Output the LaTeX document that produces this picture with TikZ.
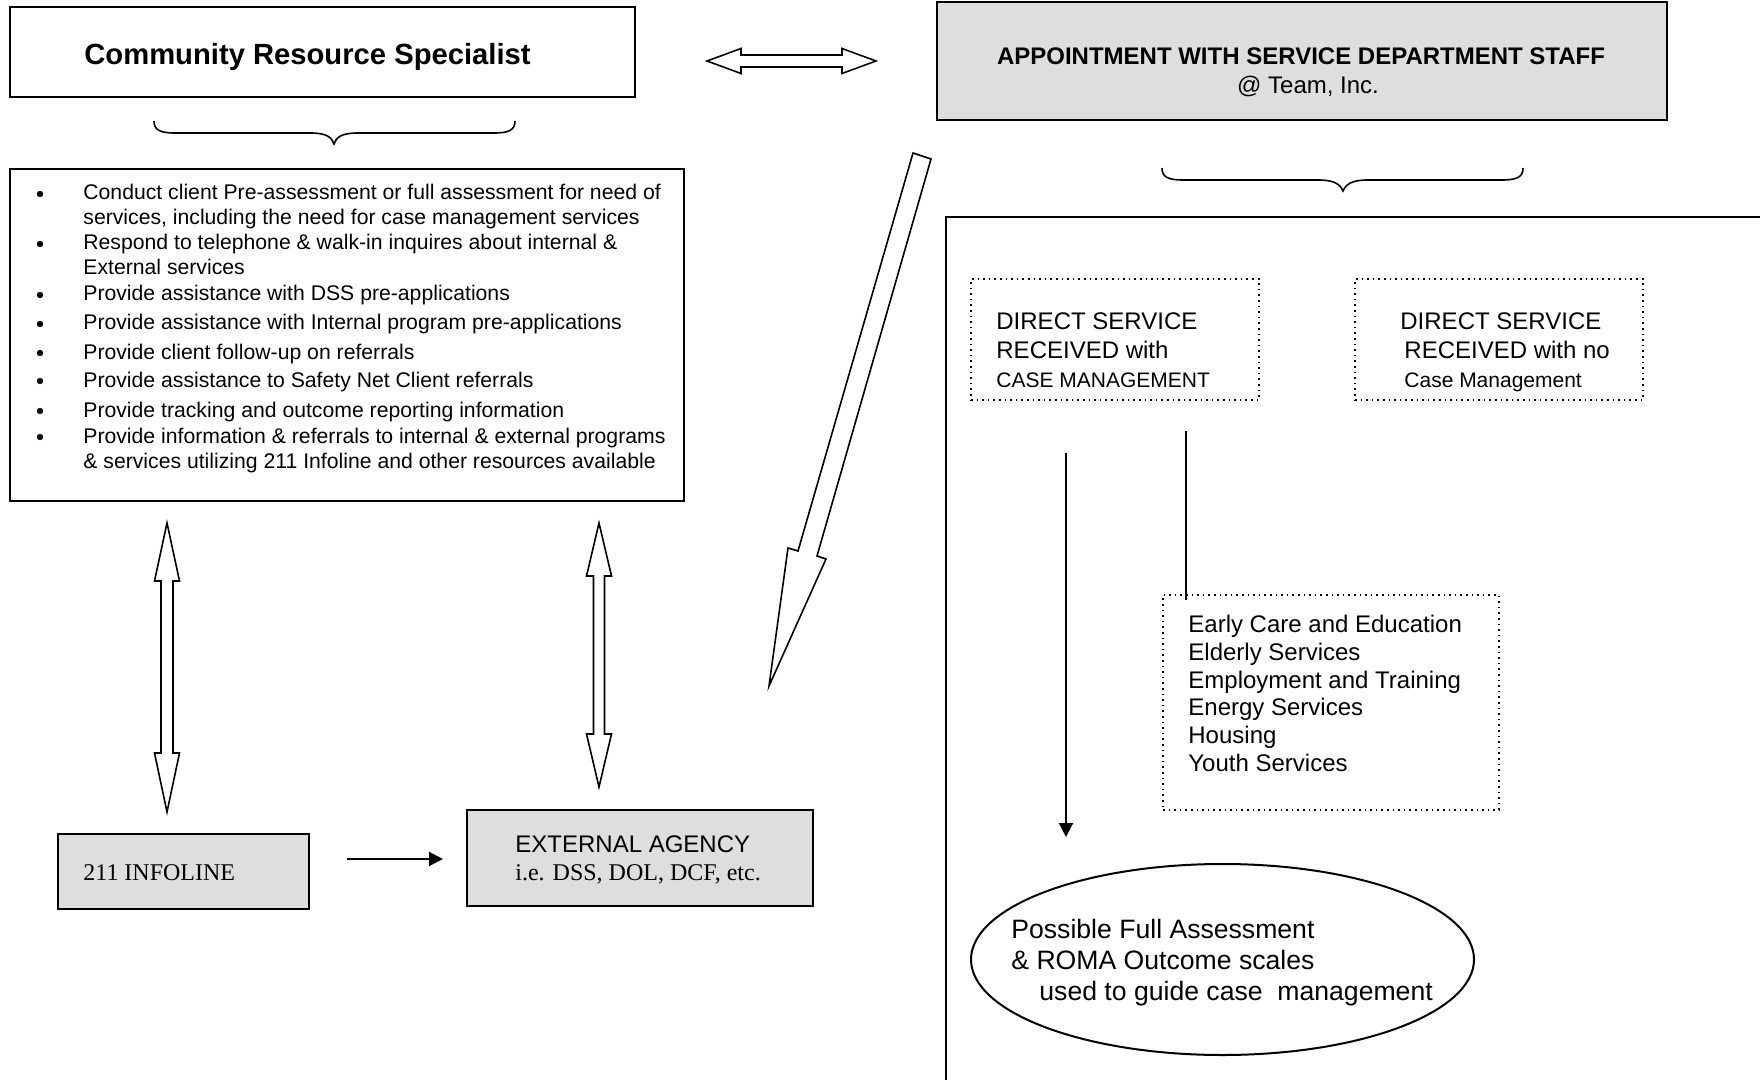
\documentclass[tikz,border=0pt]{standalone}
\usepackage{fontspec}
\setmainfont{Liberation Sans}
\newfontfamily\timesfont{Liberation Serif}
\usetikzlibrary{shapes.geometric,arrows.meta}
\definecolor{boxgray}{RGB}{222,222,222}
\begin{document}
\begin{tikzpicture}[x=0.5pt,y=-0.5pt,
  box/.style={draw,line width=1pt,inner sep=0pt},
  dotbox/.style={draw,dotted,line width=0.8pt,inner sep=0pt},
  txt/.style={inner sep=0pt,anchor=base west},
  blockarrow/.style={draw,line width=0.8pt,fill=white,line join=miter},
  bl/.style={txt,font=\fontsize{10.6}{12.35}\selectfont},
  dot/.style={circle,fill,inner sep=0pt,minimum size=3.2pt},
  mid/.style={txt,font=\fontsize{12}{14}\selectfont},
  small/.style={txt,font=\fontsize{10.5}{12}\selectfont},
  serif/.style={txt,font=\timesfont\fontsize{12}{14}\selectfont},
  conn/.style={line width=1pt,-{Triangle[length=7pt,width=7pt]}},
  bracepath/.style={line width=0.8pt}
]
\useasboundingbox (0,0) rectangle (1760,1080);

% Community Resource Specialist
\node[box,minimum width=312.5pt,minimum height=45pt] (crs) at (322.5,52) {};
\node[txt,font=\bfseries\fontsize{14.6}{17}\selectfont] (crst) at (84,65) {Community Resource Specialist};

% brace under CRS
\draw[bracepath] (154,121) .. controls (154,130) and (160,133) .. (175,133) -- (310,133)
  .. controls (326,133) and (332,137) .. (334,144) .. controls (336,137) and (342,133) .. (358,133)
  -- (494,133) .. controls (509,133) and (515,130) .. (515,121);

% task list box
\node[box,minimum width=337pt,minimum height=166pt] (tasks) at (347,335) {};
\node[dot] (b1) at (40,194) {};
\node[bl] (t1a) at (83,200) {Conduct client Pre-assessment or full assessment for need of};
\node[bl] (t1b) at (83,225) {services, including the need for case management services};
\node[dot] (b2) at (40,244) {};
\node[bl] (t2a) at (83,250) {Respond to telephone \& walk-in inquires about internal \&};
\node[bl] (t2b) at (83,275) {External services};
\node[dot] (b3) at (40,295) {};
\node[bl] (t3) at (83,301) {Provide assistance with DSS pre-applications};
\node[dot] (b4) at (40,324) {};
\node[bl] (t4) at (83,330) {Provide assistance with Internal program pre-applications};
\node[dot] (b5) at (40,353) {};
\node[bl] (t5) at (83,359) {Provide client follow-up on referrals};
\node[dot] (b6) at (40,381) {};
\node[bl] (t6) at (83,387) {Provide assistance to Safety Net Client referrals};
\node[dot] (b7) at (40,411) {};
\node[bl] (t7) at (83,417) {Provide tracking and outcome reporting information};
\node[dot] (b8) at (40,437) {};
\node[bl] (t8a) at (83,443) {Provide information \& referrals to internal \& external programs};
\node[bl] (t8b) at (83,468) {\& services utilizing 211 Infoline and other resources available};

% horizontal double block arrow
\draw[blockarrow] (707,61) -- (741,48.5) -- (741,55) -- (842,55) -- (842,48.5) -- (876,61)
  -- (842,73.5) -- (842,67) -- (741,67) -- (741,73.5) -- cycle;

% Appointment box
\node[box,fill=boxgray,minimum width=365pt,minimum height=59pt] (appt) at (1302,61) {};
\node[txt,anchor=base,font=\bfseries\fontsize{12}{14}\selectfont] (apptt) at (1301,64.5) {APPOINTMENT WITH SERVICE DEPARTMENT STAFF};
\node[txt,anchor=base,font=\fontsize{12}{14}\selectfont] (appts) at (1308,93.5) {@ Team, Inc.};

% brace under appointment
\begin{scope}[shift={(1008,47)}]
\draw[bracepath] (154,121) .. controls (154,130) and (160,133) .. (175,133) -- (310,133)
  .. controls (326,133) and (332,137) .. (335,144) .. controls (338,137) and (344,133) .. (360,133)
  -- (494,133) .. controls (509,133) and (515,130) .. (515,121);
\end{scope}

% slanted block arrow
\draw[blockarrow] (913,153) -- (931,159) -- (817,556) -- (826,559) -- (769,686)
  -- (788,548) -- (798,551) -- cycle;

% large open frame on the right
\draw[line width=1pt] (1762,217) -- (946,217) -- (946,1082);

% direct service boxes
\node[dotbox,minimum width=144pt,minimum height=60.5pt] (dsc) at (1115,339.5) {};
\node[mid] (dsc1) at (996,329.5) {DIRECT SERVICE};
\node[mid] (dsc2) at (996,358.5) {RECEIVED with};
\node[small] (dsc3) at (996,387.5) {CASE MANAGEMENT};

\node[dotbox,minimum width=144pt,minimum height=60.5pt] (dsn) at (1499,339.5) {};
\node[mid] (dsn1) at (1400,329.5) {DIRECT SERVICE};
\node[mid] (dsn2) at (1404,358.5) {RECEIVED with no};
\node[small] (dsn3) at (1404,387.5) {Case Management};

% connectors in right frame
\coordinate (vl1) at (1186,431);
\coordinate (vl2) at (1186,600);
\draw[line width=1pt] (vl1) -- (vl2);
\coordinate (da1) at (1066,453);
\coordinate (da2) at (1066,837);
\draw[conn] (da1) -- (da2);

% services box
\node[dotbox,minimum width=168pt,minimum height=107.5pt] (svc) at (1331,702.5) {};
\node[mid] (s1) at (1188,632.5) {Early Care and Education};
\node[mid] (s2) at (1188,660.5) {Elderly Services};
\node[mid] (s3) at (1188,688.5) {Employment and Training};
\node[mid] (s4) at (1188,715.5) {Energy Services};
\node[mid] (s5) at (1188,743.5) {Housing};
\node[mid] (s6) at (1188,771.5) {Youth Services};

% ellipse
\node[draw,ellipse,line width=1pt,minimum width=251.5pt,minimum height=95.5pt,inner sep=0pt] (roma) at (1222.5,959.5) {};
\node[txt,font=\fontsize{13.3}{15.5}\selectfont] (r1) at (1011,938.5) {Possible Full Assessment};
\node[txt,font=\fontsize{13.3}{15.5}\selectfont] (r2) at (1011,969.5) {\& ROMA Outcome scales};
\node[txt,font=\fontsize{13.3}{15.5}\selectfont] (r3) at (1039,1000.5) {used to guide case\ \ management};

% vertical double block arrows
\draw[blockarrow] (167,523) -- (179.5,581) -- (173,581) -- (173,753) -- (179.5,753) -- (167,812)
  -- (154.5,753) -- (161,753) -- (161,581) -- (154.5,581) -- cycle;
\draw[blockarrow] (599,523) -- (611.5,576) -- (604.5,576) -- (604.5,734) -- (611.5,734) -- (599,787)
  -- (586.5,734) -- (593.5,734) -- (593.5,576) -- (586.5,576) -- cycle;

% 211 INFOLINE and EXTERNAL AGENCY
\node[box,fill=boxgray,minimum width=125.5pt,minimum height=37.5pt] (info) at (183.5,871.5) {};
\node[serif] (infot) at (83,880) {211 INFOLINE};
\node[box,fill=boxgray,minimum width=173pt,minimum height=48pt] (ext) at (640,858) {};
\node[mid] (ext1) at (515,852.5) {EXTERNAL AGENCY};
\node[serif] (ext2) at (515,880) {i.e. DSS, DOL, DCF, etc.};

\coordinate (ia1) at (347,859);
\coordinate (ia2) at (443,859);
\draw[conn] (ia1) -- (ia2);
\end{tikzpicture}
\end{document}
